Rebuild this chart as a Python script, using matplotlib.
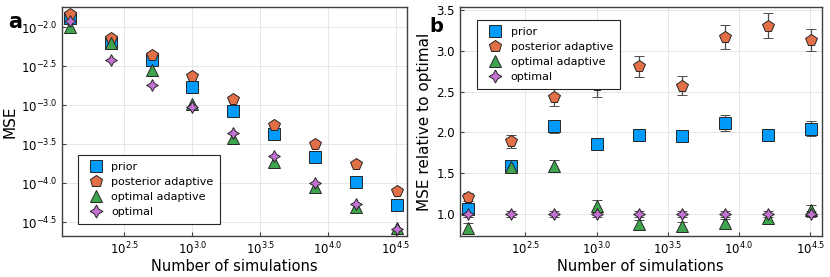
import matplotlib
matplotlib.use("Agg")
import matplotlib.pyplot as plt
import numpy as np

# number of simulations (doubling from 125)
n_sims = [125, 250, 500, 1000, 2000, 4000, 8000, 16000, 32000]

labels = ["prior", "posterior adaptive", "optimal adaptive", "optimal"]
colors = ["#009AFA", "#E36F47", "#3EA44E", "#C371D2"]
markers = ["s", "p", "^", (4, 1, 0)]

# panel a: log10(MSE)
mse_log = {
    "prior":              [-1.885, -2.197, -2.42, -2.76, -3.073, -3.368, -3.667, -3.979, -4.282],
    "posterior adaptive": [-1.83, -2.14, -2.355, -2.624, -2.919, -3.252, -3.496, -3.756, -4.098],
    "optimal adaptive":   [-2.0, -2.205, -2.547, -2.983, -3.423, -3.731, -4.051, -4.308, -4.577],
    "optimal":            [-1.915, -2.42, -2.744, -3.026, -3.359, -3.65, -4.0, -4.269, -4.59],
}

# panel b: MSE relative to optimal, with error bars
rel = {
    "prior":              [1.057, 1.594, 2.074, 1.86, 1.971, 1.951, 2.115, 1.971, 2.045],
    "posterior adaptive": [1.213, 1.89, 2.43, 2.58, 2.811, 2.574, 3.172, 3.311, 3.14],
    "optimal adaptive":   [0.832, 1.582, 1.594, 1.098, 0.877, 0.852, 0.893, 0.947, 1.049],
    "optimal":            [1.0, 1.0, 1.0, 1.0, 1.0, 1.0, 1.0, 1.0, 1.0],
}
rel_err = {
    "prior":              [0.1, 0.06, 0.085, 0.05, 0.07, 0.06, 0.095, 0.07, 0.09],
    "posterior adaptive": [0.05, 0.08, 0.1, 0.14, 0.13, 0.12, 0.15, 0.15, 0.135],
    "optimal adaptive":   [0.06, 0.05, 0.07, 0.07, 0.05, 0.05, 0.05, 0.05, 0.06],
    "optimal":            [0.04, 0.04, 0.04, 0.04, 0.04, 0.04, 0.04, 0.04, 0.04],
}

xticks = [10**2.5, 10**3.0, 10**3.5, 10**4.0, 10**4.5]
xticklabels = [r"$10^{2.5}$", r"$10^{3.0}$", r"$10^{3.5}$", r"$10^{4.0}$", r"$10^{4.5}$"]
yticks_a = [-2.0, -2.5, -3.0, -3.5, -4.0, -4.5]
yticks_b = [1.0, 1.5, 2.0, 2.5, 3.0, 3.5]

fig = plt.figure(figsize=(8.3, 2.77), dpi=100)
ax1 = fig.add_axes([0.0747, 0.148, 0.4157, 0.827])
ax2 = fig.add_axes([0.554, 0.148, 0.436, 0.827])

for ax in (ax1, ax2):
    ax.set_xscale("log")
    ax.set_xlim(10**2.04, 10**4.58)
    ax.set_xticks(xticks)
    ax.set_xticklabels(xticklabels, fontsize=8.5)
    ax.xaxis.set_minor_locator(matplotlib.ticker.NullLocator())
    ax.grid(True, color="0.9", linewidth=0.7)
    ax.set_axisbelow(True)
    for s in ax.spines.values():
        s.set_color("0.25")
        s.set_linewidth(1.0)
    ax.tick_params(direction="in", length=3, color="0.25", labelsize=8.5)
    ax.set_xlabel("Number of simulations", fontsize=10.5, labelpad=1)

# panel a
for lab, c, m in zip(labels, colors, markers):
    ax1.plot(n_sims, [10**v for v in mse_log[lab]], linestyle="none", marker=m,
             ms=8.5, mfc=c, mec="0.15", mew=0.7, label=lab)
ax1.set_yscale("log")
ax1.set_ylim(10**-4.676, 10**-1.74)
ax1.set_yticks([10**v for v in yticks_a])
ax1.set_yticklabels([r"$10^{%.1f}$" % v for v in yticks_a], fontsize=8.5)
ax1.yaxis.set_minor_locator(matplotlib.ticker.NullLocator())
ax1.set_ylabel("MSE", fontsize=11, labelpad=2)
leg1 = ax1.legend(loc="lower left", bbox_to_anchor=(0.03, 0.03), fontsize=8,
                  frameon=True, fancybox=False, edgecolor="0.15", borderpad=0.6,
                  handletextpad=0.4, labelspacing=0.45, markerscale=1.1, framealpha=1)
leg1.get_frame().set_linewidth(0.8)

# panel b
for lab, c, m in zip(labels, colors, markers):
    ax2.errorbar(n_sims, rel[lab], yerr=rel_err[lab], linestyle="none", marker=m,
                 ms=8.5, mfc=c, mec="0.15", mew=0.7, ecolor="0.3", elinewidth=0.9,
                 capsize=3.5, capthick=0.9, label=lab)
ax2.set_ylim(0.729, 3.541)
ax2.set_yticks(yticks_b)
ax2.set_yticklabels(["%.1f" % v for v in yticks_b], fontsize=8.5)
ax2.set_ylabel("MSE relative to optimal", fontsize=11, labelpad=3)
handles, hl = ax2.get_legend_handles_labels()
handles = [h[0] for h in handles]
leg2 = ax2.legend(handles, hl, loc="upper left", bbox_to_anchor=(0.033, 0.965), fontsize=8,
                  frameon=True, fancybox=False, edgecolor="0.15", borderpad=0.6,
                  handletextpad=0.4, labelspacing=0.45, markerscale=1.1, framealpha=1)
leg2.get_frame().set_linewidth(0.8)

fig.text(0.010, 0.9, "a", fontsize=15, fontweight="bold")
fig.text(0.517, 0.885, "b", fontsize=14, fontweight="bold")

fig.savefig("out.png", dpi=100)
